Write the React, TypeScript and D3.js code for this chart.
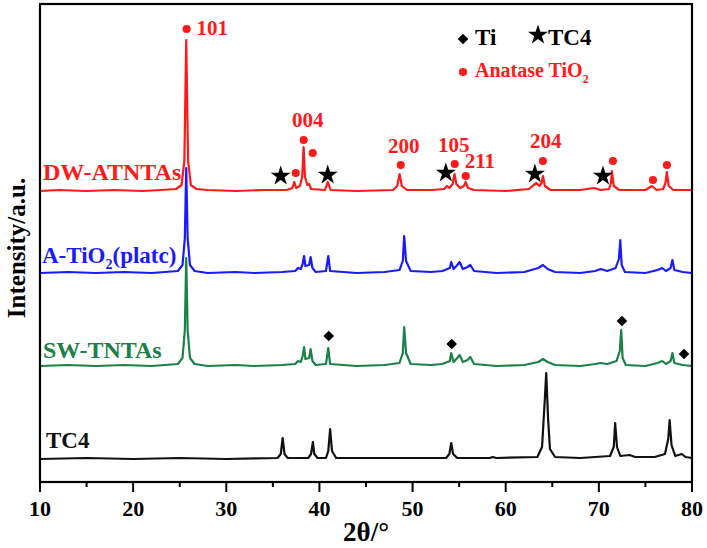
import * as d3 from 'd3';

// XRD patterns: [2θ (deg), intensity above the series baseline (a.u.)]
const DW_ATNTAS: [number, number][] = [
  [10, 0], [12, 1], [15, 0], [18, 1], [21, 0], [23, 1], [24.6, 2], [25.2, 6], [25.5, 30], [25.7, 151],
  [25.9, 30], [26.2, 6], [26.8, 2], [28, 1], [31, 0], [34, 1], [36.5, 1], [37.1, 3], [37.3, 9], [37.5, 3],
  [37.9, 5], [38.15, 14], [38.3, 44], [38.45, 14], [38.7, 6], [38.9, 7], [39.1, 2], [40.6, 1], [40.9, 9],
  [41.2, 1], [44, 0], [47.9, 1], [48.35, 5], [48.6, 17], [48.85, 5], [49.4, 1], [52, 1], [53.4, 2],
  [53.7, 5], [53.95, 3], [54.3, 7], [54.5, 17], [54.7, 7], [55.1, 3], [55.5, 5], [55.7, 9], [55.95, 3],
  [56.6, 1], [60, 0], [62.5, 2], [63.0, 6], [63.3, 8], [63.6, 5], [63.85, 8], [64.0, 15], [64.2, 5],
  [64.8, 1], [68, 1], [69.5, 3], [70.2, 1], [71.1, 2], [71.3, 8], [71.4, 20], [71.6, 5], [72.2, 1],
  [75, 1], [75.7, 5], [76.2, 1], [76.9, 2], [77.15, 8], [77.3, 19], [77.5, 5], [78, 1], [80, 1],
];

const A_TIO2: [number, number][] = [
  [10, 0], [13, 1], [16, 0], [19, 1], [22, 0], [24.8, 2], [25.3, 8], [25.55, 35], [25.7, 105], [25.85, 35],
  [26.1, 8], [26.6, 2], [28, 0], [31, 1], [33, 0], [36, 1], [37.4, 2], [37.7, 5], [38.0, 4], [38.2, 9],
  [38.35, 17], [38.5, 7], [38.9, 8], [39.05, 16], [39.25, 5], [39.6, 1], [40.7, 2], [40.95, 17], [41.15, 2],
  [44, 0], [47, 1], [48.6, 3], [48.95, 12], [49.1, 37], [49.3, 12], [49.8, 2], [52, 1], [53.2, 2],
  [54.0, 5], [54.15, 11], [54.4, 4], [54.8, 8], [55.05, 11], [55.4, 4], [55.9, 6], [56.2, 8], [56.6, 2],
  [59, 0], [62, 1], [63.5, 5], [64.0, 8], [64.5, 4], [65.3, 1], [68, 0], [69.6, 2], [70.2, 4], [70.9, 2],
  [71.8, 5], [72.15, 14], [72.3, 33], [72.45, 8], [72.8, 1], [75, 0], [76.3, 3], [76.8, 5], [77.2, 2],
  [77.7, 5], [77.9, 13], [78.1, 3], [79, 1], [80, 0],
];

const SW_TNTAS: [number, number][] = [
  [10, 0], [13, 1], [16, 0], [19, 1], [22, 0], [24.8, 2], [25.3, 8], [25.55, 36], [25.7, 108], [25.85, 36],
  [26.1, 8], [26.6, 2], [28, 0], [31, 1], [33, 0], [36, 1], [37.4, 2], [37.7, 5], [38.0, 4], [38.2, 10],
  [38.35, 19], [38.5, 7], [38.9, 8], [39.05, 17], [39.25, 5], [39.6, 1], [40.7, 2], [40.95, 18], [41.15, 2],
  [44, 0], [47, 1], [48.6, 3], [48.95, 13], [49.1, 39], [49.3, 13], [49.8, 2], [52, 1], [53.2, 2],
  [54.0, 5], [54.15, 13], [54.4, 4], [54.8, 8], [55.05, 11], [55.4, 4], [55.9, 6], [56.2, 9], [56.6, 2],
  [59, 0], [62, 1], [63.5, 4], [64.0, 7], [64.5, 4], [65.3, 1], [68, 0], [69.6, 2], [70.2, 3], [70.9, 2],
  [71.9, 5], [72.25, 15], [72.4, 36], [72.55, 8], [72.9, 1], [75, 0], [76.3, 3], [76.8, 5], [77.2, 2],
  [77.7, 5], [77.9, 13], [78.1, 3], [79, 1], [80, 0],
];

const TC4: [number, number][] = [
  [10, 0], [15, 1], [20, 0], [25, 1], [30, 0], [35.5, 1], [35.85, 5], [36.05, 21], [36.25, 5], [36.6, 1],
  [38.8, 1], [39.1, 5], [39.3, 17], [39.45, 5], [39.8, 1], [40.7, 1], [40.95, 8], [41.15, 30], [41.35, 8],
  [41.8, 1], [47, 1], [53.6, 1], [53.95, 5], [54.15, 16], [54.35, 5], [54.8, 1], [58.3, 1], [58.6, 2],
  [59, 1], [63.4, 2], [63.9, 12], [64.2, 60], [64.35, 86], [64.55, 40], [64.75, 10], [65.3, 2], [68, 1],
  [71.2, 3], [71.6, 12], [71.75, 36], [71.95, 12], [72.3, 3], [73.3, 4], [73.9, 2], [76, 2], [77.1, 5],
  [77.45, 20], [77.6, 39], [77.8, 14], [78.2, 3], [78.9, 5], [79.3, 2], [80, 1],
];

const seriesNames = ['TC4', 'SW-TNTAs', 'A-TiO2(platc)', 'DW-ATNTAs'];
const seriesData = [TC4, SW_TNTAS, A_TIO2, DW_ATNTAS];
const seriesOffsets = [23, 116, 209, 291];
const seriesColors = ['#111111', '#1b8049', '#1a1aff', '#ff1a1a'];

// phase markers: [2θ, height in stacked plot units]
const anataseDots: [number, number][] = [
  [25.74, 453], [38.31, 342], [39.28, 329], [37.45, 309], [48.73, 317], [54.53, 318],
  [55.71, 306], [63.99, 321], [71.51, 321], [75.81, 302], [77.31, 317],
];
const tc4Stars: [number, number][] = [[35.84, 306], [40.89, 307], [53.57, 309], [63.13, 308], [70.44, 306]];
const tiDiamonds: [number, number][] = [[41.0, 146], [54.2, 138], [72.48, 161], [79.14, 128]];

// hkl labels: [text, 2θ, height, anchor]
const hklLabels: [string, number, number, string][] = [
  ['101', 26.8, 447, 'start'],
  ['004', 38.74, 355, 'middle'],
  ['200', 49.06, 329, 'middle'],
  ['105', 54.43, 330, 'middle'],
  ['211', 57.22, 314, 'middle'],
  ['204', 64.31, 334, 'middle'],
];

const xTicks = [10, 20, 30, 40, 50, 60, 70, 80];
const xMinorTicks = [15, 25, 35, 45, 55, 65, 75];

const W = 707;
const H = 548;
const FONT = '"Liberation Serif", "Times New Roman", serif';

export default function App() {
  const margin = { left: 40, right: 15, top: 4, bottom: 66 };
  const x = d3.scaleLinear().domain([10, 80]).range([margin.left, W - margin.right]);
  const y = d3.scaleLinear().domain([0, 478]).range([H - margin.bottom, margin.top]);

  const line = (off: number) =>
    d3.line<[number, number]>()
      .x(d => x(d[0]))
      .y(d => y(d[1] + off));

  const dot = d3.symbol().type(d3.symbolCircle).size(52)();
  const star = d3.symbol().type(d3.symbolStar).size(125)();
  const diamond = d3.symbol().type(d3.symbolDiamond2).size(72)();

  const x0 = x(10);
  const x1 = x(80);
  const yb = y(0);
  const yt = y(478);

  // left-side sample labels: [series index, x px, baseline px, font size]
  const labelPos: [number, number, number, number][] = [
    [0, 46, 448, 23], [1, 43, 358, 24], [2, 42, 263, 23], [3, 43, 180, 24],
  ];

  return (
    <svg width={W} height={H} style={{ position: 'absolute', left: 0, top: 0, background: '#fff' }}
      fontFamily={FONT} fontWeight="bold">
      {/* traces */}
      {seriesData.map((d, i) => (
        <path key={i} d={line(seriesOffsets[i])(d) || ''} fill="none" stroke={seriesColors[i]}
          strokeWidth={2.2} strokeLinejoin="round" />
      ))}

      {/* frame */}
      <rect x={x0} y={yt} width={x1 - x0} height={yb - yt} fill="none" stroke="#000" strokeWidth={2.2} />

      {/* x ticks */}
      {xTicks.map(t => (
        <g key={t}>
          <line x1={x(t)} x2={x(t)} y1={yb} y2={yb + 10} stroke="#000" strokeWidth={2} />
          <text x={x(t)} y={yb + 34} textAnchor="middle" fontSize={22}>{t}</text>
        </g>
      ))}
      {xMinorTicks.map(t => (
        <line key={t} x1={x(t)} x2={x(t)} y1={yb} y2={yb + 5} stroke="#000" strokeWidth={2} />
      ))}
      <text x={(x0 + x1) / 2} y={541} textAnchor="middle" fontSize={27}>2θ/°</text>
      <text transform={`translate(25,248) rotate(-90)`} textAnchor="middle" fontSize={25}>
        Intensity/a.u.
      </text>

      {/* sample labels */}
      {labelPos.map(([i, lx, ly, fs]) => (
        <text key={i} x={lx} y={ly} fill={seriesColors[i]} fontSize={fs}>
          {i === 2 ? (
            <>A-TiO<tspan fontSize={14} dy={6}>2</tspan><tspan dy={-6}>(platc)</tspan></>
          ) : seriesNames[i]}
        </text>
      ))}

      {/* markers */}
      {anataseDots.map(([a, b], i) => (
        <path key={'d' + i} d={dot || ''} transform={`translate(${x(a)},${y(b)})`} fill="#ff1a1a" />
      ))}
      {tc4Stars.map(([a, b], i) => (
        <path key={'s' + i} d={star || ''} transform={`translate(${x(a)},${y(b)})`} fill="#000" />
      ))}
      {tiDiamonds.map(([a, b], i) => (
        <path key={'t' + i} d={diamond || ''} transform={`translate(${x(a)},${y(b)})`} fill="#000" />
      ))}
      {hklLabels.map(([t, a, b, anchor]) => (
        <text key={t} x={x(a)} y={y(b)} textAnchor={anchor} fill="#ff1a1a" fontSize={21}>{t}</text>
      ))}

      {/* legend */}
      <path d={diamond || ''} transform="translate(463,39)" fill="#000" />
      <text x={475} y={45} fontSize={23}>Ti</text>
      <path d={star || ''} transform="translate(538,35)" fill="#000" />
      <text x={548} y={45} fontSize={23}>TC4</text>
      <path d={dot || ''} transform="translate(463,72)" fill="#ff1a1a" />
      <text x={475} y={77} fontSize={20} fill="#ff1a1a">
        Anatase TiO<tspan fontSize={12} dy={6}>2</tspan>
      </text>
    </svg>
  );
}
